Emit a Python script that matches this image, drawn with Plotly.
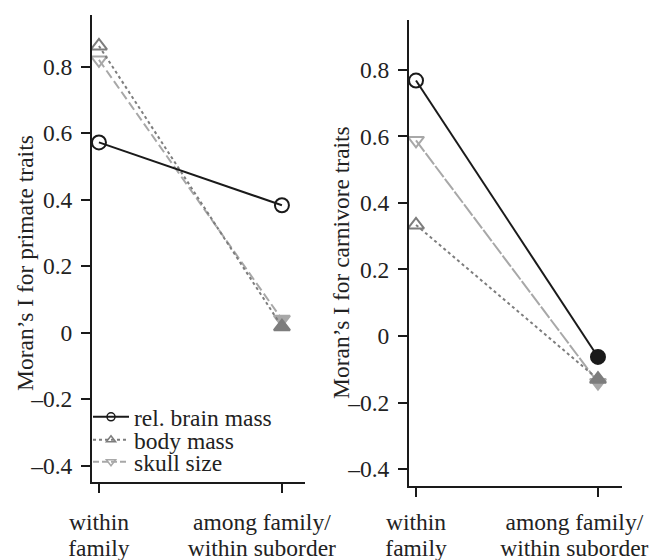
import plotly.graph_objects as go

# ---- data ----
levels = [1, 2]
label_line1 = ["within", "among family/"]
label_line2 = ["family", "within suborder"]
# label anchor positions along the x scale (second label sits left of its tick, as in the original)
label_pos_primate = [1, 1.89]
label_pos_carnivore = [1, 1.87]

primate_brain = [0.572, 0.383]
primate_body = [0.862, 0.018]
primate_skull = [0.820, 0.040]

carnivore_brain = [0.768, -0.063]
carnivore_body = [0.334, -0.130]
carnivore_skull = [0.588, -0.140]

ytick_vals = [-0.4, -0.2, 0, 0.2, 0.4, 0.6, 0.8]
ytick_text = ["\u20130.4", "\u20130.2", "0", "0.2", "0.4", "0.6", "0.8"]

series_names = ["rel. brain mass", "body mass", "skull size"]

# ---- styles ----
FONT = "Liberation Serif, Times New Roman, serif"
FS = 23.5
TXT = "#222"
C_BRAIN = "#1a1a1a"
C_BODY = "#7d7d7d"
C_SKULL = "#a8a8a8"

fig = go.Figure()

def add_series(xa, ya, ys, color, dash, width, symbols):
    fig.add_trace(go.Scatter(
        x=levels, y=ys, xaxis=xa, yaxis=ya, mode="lines+markers",
        line=dict(color=color, dash=dash, width=width),
        marker=dict(symbol=symbols, size=14, color=color,
                    line=dict(color=color, width=2)),
        showlegend=False, cliponaxis=False, hoverinfo="skip"))

# primate panel
add_series("x", "y", primate_skull, C_SKULL, "9px,4px", 2, ["triangle-down-open", "triangle-down"])
add_series("x", "y", primate_body, C_BODY, "dot", 2, ["triangle-up-open", "triangle-up"])
add_series("x", "y", primate_brain, C_BRAIN, "solid", 2, ["circle-open", "circle-open"])

# carnivore panel
add_series("x2", "y2", carnivore_skull, C_SKULL, "14px,2px", 2, ["triangle-down-open", "triangle-down"])
add_series("x2", "y2", carnivore_body, C_BODY, "dot", 2, ["triangle-up-open", "triangle-up"])
add_series("x2", "y2", carnivore_brain, C_BRAIN, "solid", 2, ["circle-open", "circle"])

# empty traces so the label-only overlay axes get drawn
for xa, ya in [("x3", "y"), ("x4", "y"), ("x5", "y2"), ("x6", "y2")]:
    fig.add_trace(go.Scatter(x=[None], y=[None], xaxis=xa, yaxis=ya, mode="markers",
                             showlegend=False, hoverinfo="skip"))

W, H = 656, 560

# legend entries, each in its own legend box so spacing can match
leg_styles = [(C_BRAIN, "solid", "circle-open"),
              (C_BODY, "dot", "triangle-up-open"),
              (C_SKULL, "6px,3px", "triangle-down-open")]
leg_ids = ["legend", "legend2", "legend3"]
leg_y = [417, 440, 462]
for name, (c, d, s), lid in zip(series_names, leg_styles, leg_ids):
    fig.add_trace(go.Scatter(
        x=[None], y=[None], xaxis="x", yaxis="y", mode="lines+markers", name=name,
        line=dict(color=c, dash=d, width=2),
        marker=dict(symbol=s, size=8, color=c, line=dict(color=c, width=1.5)),
        showlegend=True, legend=lid))

def xaxis(dom, rng, anchor):
    return dict(domain=dom, range=rng, anchor=anchor, tickvals=levels, showticklabels=False,
                showline=True, linecolor=C_BRAIN, linewidth=2, ticks="outside",
                ticklen=9, tickwidth=2, tickcolor=C_BRAIN, showgrid=False,
                zeroline=False, automargin=False)

def xlabels(over, anchor, rng, pos, text, standoff):
    return dict(overlaying=over, anchor=anchor, side="bottom", range=rng,
                tickvals=pos, ticktext=text, ticks="", showline=False, showgrid=False,
                zeroline=False, automargin=False, ticklabelstandoff=standoff,
                tickfont=dict(family=FONT, size=FS, color=TXT))

def yaxis(dom, rng, anchor):
    return dict(domain=dom, range=rng, anchor=anchor, tickvals=ytick_vals, ticktext=ytick_text,
                showline=True, linecolor=C_BRAIN, linewidth=2, ticks="outside",
                ticklen=9, tickwidth=2, tickcolor=C_BRAIN, showgrid=False,
                zeroline=False, automargin=False, ticklabelstandoff=4,
                tickfont=dict(family=FONT, size=FS, color=TXT))

def legend_box(ypix):
    return dict(x=88 / W, y=1 - ypix / H, xanchor="left", yanchor="middle",
                bgcolor="rgba(0,0,0,0)", font=dict(family=FONT, size=FS, color=TXT),
                itemwidth=36, borderwidth=0)

XR1 = [0.962, 2.126]
XR2 = [0.9615, 2.132]
S1, S2 = 23, 49

fig.update_layout(
    width=W, height=H,
    margin=dict(l=0, r=0, t=0, b=0, autoexpand=False),
    paper_bgcolor="white", plot_bgcolor="white",
    font=dict(family=FONT, size=FS, color=TXT),
    xaxis=xaxis([92 / W, 305 / W], XR1, "y"),
    yaxis=yaxis([1 - 482 / H, 1 - 15 / H], [-0.449, 0.955], "x"),
    xaxis2=xaxis([409 / W, 622 / W], XR2, "y2"),
    yaxis2=yaxis([1 - 486 / H, 1 - 20 / H], [-0.451, 0.950], "x2"),
    xaxis3=xlabels("x", "y", XR1, label_pos_primate, label_line1, S1),
    xaxis4=xlabels("x", "y", XR1, label_pos_primate, label_line2, S2),
    xaxis5=xlabels("x2", "y2", XR2, label_pos_carnivore, label_line1, S1 - 4),
    xaxis6=xlabels("x2", "y2", XR2, label_pos_carnivore, label_line2, S2 - 4),
    legend=legend_box(leg_y[0]),
    legend2=legend_box(leg_y[1]),
    legend3=legend_box(leg_y[2]),
    annotations=[
        dict(text="Moran\u2019s I for primate traits", x=25 / W, y=1 - 263 / H,
             xref="paper", yref="paper", textangle=-90, showarrow=False,
             xanchor="center", yanchor="middle",
             font=dict(family=FONT, size=FS, color=TXT)),
        dict(text="Moran\u2019s I for carnivore traits", x=341 / W, y=1 - 263 / H,
             xref="paper", yref="paper", textangle=-90, showarrow=False,
             xanchor="center", yanchor="middle",
             font=dict(family=FONT, size=FS, color=TXT)),
    ],
)

fig.write_html("out.html", config={"displayModeBar": False},
               post_script="document.body.style.margin='0';")
